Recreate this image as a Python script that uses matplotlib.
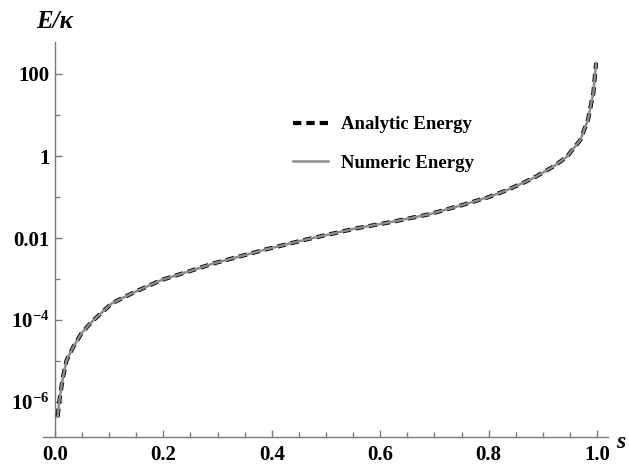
"""Energy vs s on a log scale: analytic (dashed) vs numeric (solid) curves."""

import matplotlib

matplotlib.use("Agg")
import matplotlib.pyplot as plt
from matplotlib.ticker import FixedLocator, NullFormatter

# values
s_vals = [0.005, 0.009, 0.015, 0.0215, 0.034, 0.049, 0.068, 0.105, 0.148,
          0.197, 0.25, 0.292, 0.391, 0.465, 0.557, 0.62, 0.69, 0.75, 0.80,
          0.834, 0.882, 0.92, 0.944, 0.969, 0.983, 0.993, 0.998]
log_energy = [-6.36, -5.88, -5.38, -4.98, -4.65, -4.32, -4.04, -3.59, -3.31,
              -3.02, -2.80, -2.62, -2.27, -2.03, -1.76, -1.61, -1.42, -1.20,
              -1.00, -0.83, -0.54, -0.25, -0.02, 0.39, 0.88, 1.54, 2.27]
energy = [10 ** v for v in log_energy]

major_y = [1e-6, 1e-4, 1e-2, 1, 100]
major_y_labels = [r"$\mathbf{10^{-6}}$", r"$\mathbf{10^{-4}}$", "0.01", "1", "100"]
minor_y = [1e-5, 1e-3, 1e-1, 10]
major_x = [0.0, 0.2, 0.4, 0.6, 0.8, 1.0]
minor_x = [0.05, 0.1, 0.15, 0.25, 0.3, 0.35, 0.45, 0.5, 0.55,
           0.65, 0.7, 0.75, 0.85, 0.9, 0.95]

plt.rcParams["font.family"] = ["Liberation Serif", "DejaVu Serif"]
plt.rcParams["font.weight"] = "bold"
plt.rcParams["mathtext.fontset"] = "custom"
plt.rcParams["mathtext.rm"] = "Liberation Serif:bold"
plt.rcParams["mathtext.bf"] = "Liberation Serif:bold"

AXIS_GRAY = "#7a7a7a"

fig = plt.figure(figsize=(6.29, 4.68), dpi=100)
ax = fig.add_axes([43 / 629, 31 / 468, 565 / 629, 395 / 468])

ax.plot(s_vals, energy, color="black", lw=3.0, ls=(0, (2.0, 1.2)),
        label="Analytic Energy", zorder=3)
ax.plot(s_vals, energy, color="#8c8c8c", lw=1.8, label="Numeric Energy",
        zorder=4)

ax.set_yscale("log")
ax.set_xlim(-0.022, 1.02)
ax.set_ylim(10 ** -6.85, 10 ** 2.78)

# Mathematica-like axes: y axis through s = 0, x axis at the bottom
for side in ("top", "right"):
    ax.spines[side].set_visible(False)
ax.spines["left"].set_position(("data", 0))
for side in ("left", "bottom"):
    ax.spines[side].set_color(AXIS_GRAY)
    ax.spines[side].set_linewidth(1.0)

ax.xaxis.set_major_locator(FixedLocator(major_x))
ax.xaxis.set_minor_locator(FixedLocator(minor_x))
ax.set_xticklabels([f"{v:.1f}" for v in major_x])
ax.yaxis.set_major_locator(FixedLocator(major_y))
ax.yaxis.set_minor_locator(FixedLocator(minor_y))
ax.yaxis.set_minor_formatter(NullFormatter())
ax.set_yticklabels(major_y_labels)

ax.tick_params(axis="both", which="both", direction="in", color=AXIS_GRAY,
               labelsize=15, labelcolor="black")
ax.tick_params(axis="both", which="major", length=5, width=1.0)
ax.tick_params(axis="both", which="minor", length=3.5, width=1.0)
ax.tick_params(axis="x", which="major", pad=6)
ax.tick_params(axis="y", which="major", pad=4)

fig.text(55 / 629, 1 - 22 / 468, "E/κ", ha="center", va="center",
         fontsize=18, fontweight="bold", style="italic")
# reference crops the "s" at the right edge; keep it just inside here
fig.text(616 / 629, 1 - 442 / 468, "s", ha="left", va="center",
         fontsize=17, fontweight="bold", style="italic")

ax.legend(loc="center left", bbox_to_anchor=(293 / 629, 1 - 144 / 468),
          bbox_transform=fig.transFigure, frameon=False, fontsize=13.5,
          handlelength=1.85, handletextpad=0.7, labelspacing=1.15,
          borderpad=0, borderaxespad=0)

fig.savefig("out.png", dpi=100)
plt.close(fig)
